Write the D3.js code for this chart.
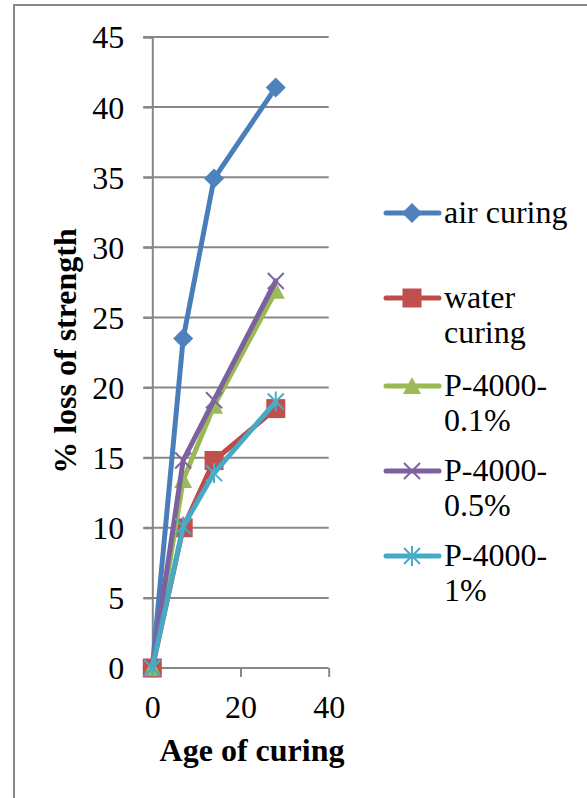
<!DOCTYPE html>
<html>
<head>
<meta charset="utf-8">
<script src="https://cdn.jsdelivr.net/npm/d3@7"></script>
<style>
  html, body { margin: 0; padding: 0; background: #fff; }
  svg { display: block; }
  text { font-family: "Liberation Serif", "Times New Roman", serif; fill: #000; }
</style>
</head>
<body>
<svg id="chart" width="587" height="798" font-family="Liberation Serif, serif"></svg>
<script>
// Curing age (days)
const ages = [0, 7, 14, 28];

// % loss of strength for each curing regime
const airCuring   = [0, 23.5, 34.9, 41.4];
const waterCuring = [0, 10.0, 14.8, 18.5];
const p4000_01    = [0, 13.4, 18.7, 26.9];
const p4000_05    = [0, 14.8, 19.1, 27.6];
const p4000_1     = [0, 10.1, 13.9, 19.0];

const seriesNames  = ["air curing", "water curing", "P-4000-0.1%", "P-4000-0.5%", "P-4000-1%"];
const legendLines  = [["air curing"], ["water", "curing"], ["P-4000-", "0.1%"], ["P-4000-", "0.5%"], ["P-4000-", "1%"]];
const seriesValues = [airCuring, waterCuring, p4000_01, p4000_05, p4000_1];

const xTicks = [0, 20, 40];
const yTicks = [0, 5, 10, 15, 20, 25, 30, 35, 40, 45];

const lineColors   = ["#4A7EBB", "#BE4B48", "#98B954", "#7D60A0", "#46AAC5"];
const markerColors = ["#4F81BD", "#C0504D", "#9BBB59", "#8064A2", "#4BACC6"];
const markerTypes  = ["diamond", "square", "triangle", "x", "star"];

const svg = d3.select("#chart");

// outer chart frame
svg.append("rect")
  .attr("x", 14).attr("y", 5)
  .attr("width", 640).attr("height", 840)
  .attr("fill", "none").attr("stroke", "#878787").attr("stroke-width", 2);

const x = d3.scaleLinear().domain([0, 40]).range([152.3, 328.7]);
const y = d3.scaleLinear().domain([0, 45]).range([668, 37]);

const gridColor = "#878787";

// horizontal gridlines (with the left tick stubs)
svg.append("g").selectAll("line").data(yTicks.filter(d => d > 0)).join("line")
  .attr("x1", x(0) - 9).attr("x2", x(40))
  .attr("y1", d => y(d)).attr("y2", d => y(d))
  .attr("stroke", gridColor).attr("stroke-width", 2);

// y axis
const yAxis = svg.append("g").attr("transform", `translate(${x(0)},0)`)
  .call(d3.axisLeft(y).tickValues(yTicks).tickSize(9).tickPadding(19).tickFormat(d3.format("d")))
  .attr("font-family", "Liberation Serif, serif").attr("font-size", 32);
yAxis.select(".domain").attr("stroke", gridColor).attr("stroke-width", 2);
yAxis.selectAll(".tick line").attr("stroke", gridColor).attr("stroke-width", 2);
yAxis.selectAll(".tick text").attr("dy", "0.34em");

// x axis
const xAxis = svg.append("g").attr("transform", `translate(0,${y(0)})`)
  .call(d3.axisBottom(x).tickValues(xTicks).tickSize(9).tickPadding(18).tickFormat(d3.format("d")))
  .attr("font-family", "Liberation Serif, serif").attr("font-size", 32);
xAxis.select(".domain").attr("stroke", gridColor).attr("stroke-width", 2).attr("d", `M${x(0)},0H${x(40)}`);
xAxis.selectAll(".tick line").attr("stroke", gridColor).attr("stroke-width", 2);
xAxis.selectAll(".tick text").attr("dy", "0.71em");

// axis titles
svg.append("text")
  .attr("x", 252).attr("y", 761)
  .attr("text-anchor", "middle").attr("font-size", 32).attr("font-weight", "bold")
  .text("Age of curing");
svg.append("text")
  .attr("transform", "translate(76,351) rotate(-90)")
  .attr("text-anchor", "middle").attr("font-size", 32).attr("font-weight", "bold")
  .text("% loss of strength");

// marker drawing
function drawMarker(g, type, i) {
  const fill = markerColors[i];
  if (type === "diamond") {
    g.append("path").attr("d", "M0,-10L10,0L0,10L-10,0Z").attr("fill", fill);
  } else if (type === "square") {
    g.append("rect").attr("x", -9.5).attr("y", -9.5).attr("width", 19).attr("height", 19).attr("fill", fill);
  } else if (type === "triangle") {
    g.append("path").attr("d", "M0,-9L9,8L-9,8Z").attr("fill", fill);
  } else if (type === "x") {
    g.append("path").attr("d", "M-8,-8L8,8M8,-8L-8,8").attr("stroke", fill).attr("stroke-width", 2).attr("fill", "none");
  } else if (type === "star") {
    g.append("path").attr("d", "M-8,-8L8,8M8,-8L-8,8M0,-10L0,10").attr("stroke", fill).attr("stroke-width", 2).attr("fill", "none");
  }
}

const line = d3.line().x(d => x(d[0])).y(d => y(d[1]));

seriesValues.forEach((vals, i) => {
  const pts = ages.map((a, k) => [a, vals[k]]);
  const g = svg.append("g").attr("class", "series");
  g.append("path").datum(pts)
    .attr("d", line)
    .attr("fill", "none")
    .attr("stroke", lineColors[i])
    .attr("stroke-width", 5)
    .attr("stroke-linejoin", "round")
    .attr("stroke-linecap", "round");
  pts.forEach(p => {
    const m = g.append("g").attr("transform", `translate(${x(p[0])},${y(p[1])})`);
    drawMarker(m, markerTypes[i], i);
  });
});

// legend
const legendY = [213, 298, 386, 471, 556];
const legend = svg.append("g");
seriesNames.forEach((name, i) => {
  const ly = legendY[i];
  legend.append("line")
    .attr("x1", 386).attr("x2", 439).attr("y1", ly).attr("y2", ly)
    .attr("stroke", lineColors[i]).attr("stroke-width", 5).attr("stroke-linecap", "round");
  const m = legend.append("g").attr("transform", `translate(412,${ly})`);
  drawMarker(m, markerTypes[i], i);
  const t = legend.append("text").attr("x", 444).attr("y", ly + 10).attr("font-size", 32);
  legendLines[i].forEach((s, k) => {
    t.append("tspan").attr("x", 444).attr("dy", k === 0 ? 0 : 35).text(s);
  });
});
</script>
</body>
</html>
